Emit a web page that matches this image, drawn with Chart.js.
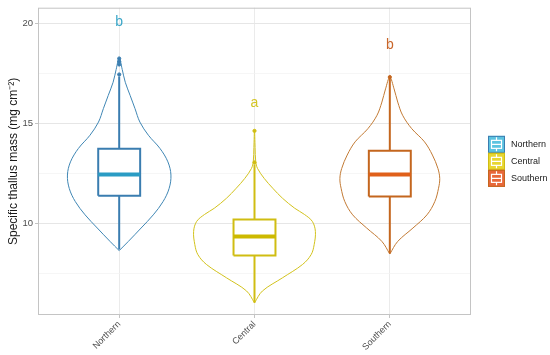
<!DOCTYPE html>
<html>
<head>
<meta charset="utf-8">
<script src="https://cdn.jsdelivr.net/npm/chart.js@4"></script>
<style>
  body { margin: 0; background: #fff; }
</style>
</head>
<body>
<canvas id="chart" width="550" height="355"></canvas>
<script>
// groups on the x axis
const groups = ['Northern', 'Central', 'Southern'];

// violin outlines: value and relative density (1 = widest violin)
const northernY = [8.64, 9.1, 9.77, 10.43, 11.09, 11.75, 12.42, 13.08, 13.75, 14.41, 15.07, 15.74, 16.4, 17.06, 17.7, 18.28];
const northernDensity = [0, 0.15, 0.36, 0.56, 0.72, 0.82, 0.85, 0.8, 0.67, 0.48, 0.34, 0.26, 0.18, 0.1, 0.05, 0];
const centralY = [6.03, 6.62, 7.28, 7.95, 8.44, 8.94, 9.6, 10.1, 10.45, 10.76, 11.26, 11.76, 12.25, 12.75, 13.1, 13.8, 14.66];
const centralDensity = [0, 0.13, 0.46, 0.79, 0.93, 0.98, 1.0, 0.95, 0.82, 0.66, 0.46, 0.3, 0.16, 0.05, 0.02, 0.01, 0];
const southernY = [8.47, 9.1, 9.77, 10.43, 11.1, 11.76, 12.25, 12.75, 13.42, 14.08, 14.74, 15.41, 16.07, 16.73, 17.31];
const southernDensity = [0, 0.13, 0.38, 0.61, 0.74, 0.8, 0.82, 0.79, 0.7, 0.57, 0.36, 0.21, 0.13, 0.07, 0];

// box plot stats
const lowerWhisker = [8.7, 6.03, 8.5];
const q1 = [11.39, 8.4, 11.35];
const medians = [12.45, 9.35, 12.45];
const q3 = [13.73, 10.2, 13.63];
const upperWhisker = [17.35, 12.95, 17.3];
const northernOutliers = [17.45, 17.95, 18.1, 18.25];
const centralOutliers = [13.05, 14.63];
const southernOutliers = [17.32];

// significance letters
const groupLetters = ['b', 'a', 'b'];
const letterHeights = [19.85, 15.82, 18.7];

// axis
const yTicks = [10, 15, 20];
const yMinorTicks = [7.5, 12.5, 17.5];

const violinLines = ['#3f86b4', '#d2c21c', '#c27a34'];
const boxLines = ['#3a7db0', '#d0bd12', '#c4661e'];
const medianLines = ['#2a9cc4', '#cdb900', '#e0601a'];
const letterColors = ['#3aa6c8', '#d3c425', '#c9662a'];
const keyFills = ['#5cc3e0', '#e8d630', '#e8683a'];

const violinWidth = 0.45;
const boxHalf = 0.155;

const violinY = [northernY, centralY, southernY];
const violinDensity = [northernDensity, centralDensity, southernDensity];
const outliers = [northernOutliers, centralOutliers, southernOutliers];

function violinPoints(pos, ys, dens) {
  const left = ys.map((y, i) => ({ x: pos - violinWidth * dens[i], y: y }));
  const right = ys.map((y, i) => ({ x: pos + violinWidth * dens[i], y: y })).reverse().slice(1);
  return left.concat(right);
}

const datasets = [];
groups.forEach((g, i) => {
  const pos = i + 1;
  datasets.push({
    label: g + ' violin',
    data: violinPoints(pos, violinY[i], violinDensity[i]),
    borderColor: violinLines[i],
    borderWidth: 1,
    tension: 0.35,
    pointRadius: 0,
    fill: false,
    order: 5
  });
  datasets.push({
    label: g + ' whiskers',
    data: [
      { x: pos, y: lowerWhisker[i] }, { x: pos, y: q1[i] }, { x: pos, y: null },
      { x: pos, y: q3[i] }, { x: pos, y: upperWhisker[i] }
    ],
    borderColor: boxLines[i],
    borderWidth: 2,
    pointRadius: 0,
    spanGaps: false,
    order: 4
  });
  datasets.push({
    label: g + ' box',
    data: [
      { x: pos - boxHalf, y: q1[i] }, { x: pos + boxHalf, y: q1[i] },
      { x: pos + boxHalf, y: q3[i] }, { x: pos - boxHalf, y: q3[i] },
      { x: pos - boxHalf, y: q1[i] }
    ],
    borderColor: boxLines[i],
    backgroundColor: '#ffffff',
    borderWidth: 2,
    pointRadius: 0,
    fill: 'shape',
    order: 3
  });
  datasets.push({
    label: g + ' median',
    data: [{ x: pos - boxHalf, y: medians[i] }, { x: pos + boxHalf, y: medians[i] }],
    borderColor: medianLines[i],
    borderWidth: 4,
    pointRadius: 0,
    order: 2
  });
  datasets.push({
    label: g + ' outliers',
    data: outliers[i].map(v => ({ x: pos, y: v })),
    showLine: false,
    pointRadius: 1.6,
    pointBackgroundColor: boxLines[i],
    pointBorderColor: boxLines[i],
    order: 1
  });
});

const decor = {
  id: 'decor',
  beforeDatasetsDraw(chart) {
    const a = chart.chartArea, ctx = chart.ctx;
    ctx.save();
    ctx.strokeStyle = '#c4c4c4';
    ctx.lineWidth = 1;
    ctx.strokeRect(a.left + 0.5, a.top + 0.5, a.right - a.left - 1, a.bottom - a.top - 1);
    ctx.restore();
  },
  afterDraw(chart) {
    const a = chart.chartArea, ctx = chart.ctx;
    const xs = chart.scales.x, ys = chart.scales.y;
    ctx.save();
    // letters
    ctx.font = '14px "Liberation Sans", Arial, sans-serif';
    ctx.textAlign = 'center';
    ctx.textBaseline = 'alphabetic';
    groups.forEach((g, i) => {
      ctx.fillStyle = letterColors[i];
      ctx.fillText(groupLetters[i], xs.getPixelForValue(i + 1), ys.getPixelForValue(letterHeights[i]));
    });
    // legend
    const key = 17;
    const lx = a.right + 17;
    let ly = (a.top + a.bottom) / 2 - key * groups.length / 2;
    ctx.font = '9px "Liberation Sans", Arial, sans-serif';
    ctx.textAlign = 'left';
    ctx.textBaseline = 'middle';
    groups.forEach((g, i) => {
      ctx.fillStyle = keyFills[i];
      ctx.fillRect(lx, ly, key, key);
      ctx.strokeStyle = boxLines[i];
      ctx.lineWidth = 1;
      ctx.strokeRect(lx + 0.5, ly + 0.5, key - 1, key - 1);
      ctx.strokeStyle = '#ffffff';
      ctx.lineWidth = 1.2;
      ctx.strokeRect(lx + 3.5, ly + 4.5, key - 7, key - 9);
      ctx.beginPath();
      ctx.moveTo(lx + 3.5, ly + key / 2);
      ctx.lineTo(lx + key - 3.5, ly + key / 2);
      ctx.moveTo(lx + key / 2, ly + 1.5);
      ctx.lineTo(lx + key / 2, ly + 4.5);
      ctx.moveTo(lx + key / 2, ly + key - 4.5);
      ctx.lineTo(lx + key / 2, ly + key - 1.5);
      ctx.stroke();
      ctx.fillStyle = '#1a1a1a';
      ctx.fillText(g, lx + key + 6, ly + key / 2);
      ly += key;
    });
    ctx.restore();
  }
};

Chart.defaults.font.family = '"Liberation Sans", Arial, sans-serif';

new Chart(document.getElementById('chart'), {
  type: 'line',
  data: { datasets: datasets },
  options: {
    responsive: false,
    animation: false,
    layout: { padding: { top: 5, right: 79, left: 0, bottom: 0 } },
    plugins: {
      legend: { display: false },
      tooltip: { enabled: false }
    },
    scales: {
      x: {
        type: 'linear',
        min: 0.4,
        max: 3.6,
        afterBuildTicks: scale => { scale.ticks = groups.map((g, i) => ({ value: i + 1 })); },
        afterFit: scale => { scale.height = 40; },
        ticks: {
          autoSkip: false,
          minRotation: 45,
          maxRotation: 45,
          padding: 1,
          color: '#4d4d4d',
          font: { size: 9 },
          callback: v => groups[v - 1]
        },
        grid: { color: '#ebebeb', tickColor: '#c4c4c4', tickLength: 3 },
        border: { display: false }
      },
      y: {
        type: 'linear',
        min: 5.42,
        max: 20.79,
        afterBuildTicks: scale => {
          scale.ticks = yMinorTicks.concat(yTicks).sort((a, b) => a - b).map(v => ({ value: v }));
        },
        afterFit: scale => { scale.width = 38; },
        ticks: {
          autoSkip: false,
          padding: 2,
          color: '#4d4d4d',
          font: { size: 9.5 },
          callback: v => (yTicks.includes(v) ? String(v) : '')
        },
        grid: {
          color: ctx => (ctx.tick && yTicks.includes(ctx.tick.value) ? '#e6e6e6' : '#f2f2f2'),
          lineWidth: ctx => (ctx.tick && yTicks.includes(ctx.tick.value) ? 1 : 0.7),
          tickColor: ctx => (ctx.tick && yTicks.includes(ctx.tick.value) ? '#c4c4c4' : 'rgba(0,0,0,0)'),
          tickLength: 3
        },
        border: { display: false },
        title: {
          display: true,
          text: 'Specific thallus mass (mg cm\u207B\u00B2)',
          color: '#1a1a1a',
          font: { size: 12 },
          padding: { top: 6, bottom: 0 }
        }
      }
    }
  },
  plugins: [decor]
});
</script>
</body>
</html>
